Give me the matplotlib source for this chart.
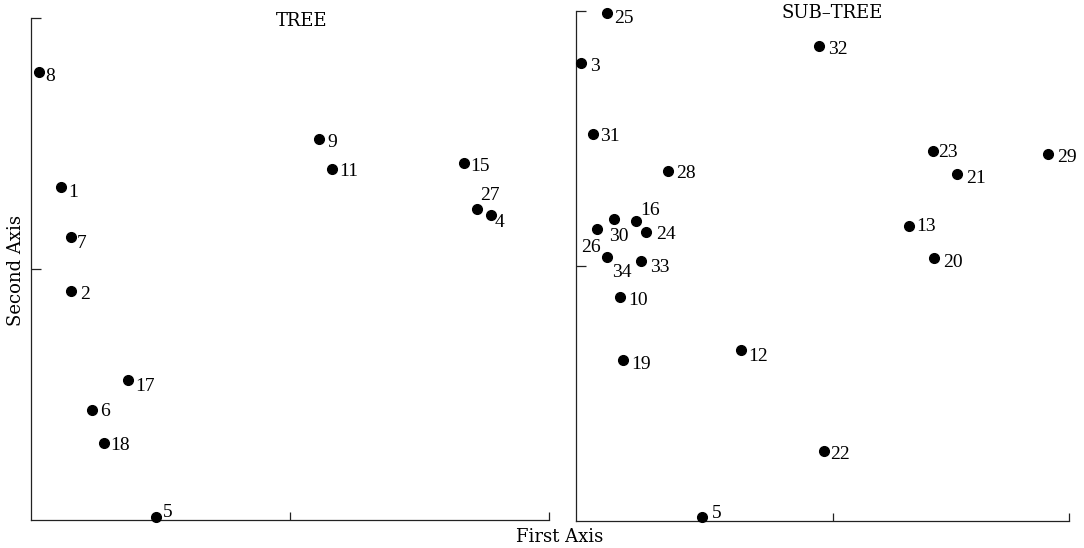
"""
Ordination plot of the TREE and SUB-TREE samples (first vs second axis).
Output: out.png (1084x548)
"""

import matplotlib
matplotlib.use("Agg")
import matplotlib.pyplot as plt

# ── Data ──────────────────────────────────────────────────────────────────────
TREE_LABELS = ["8", "1", "7", "2", "17", "6", "18", "5", "9", "11", "15", "27", "4"]
TREE_X = [0.031, 0.115, 0.153, 0.155, 0.373, 0.237, 0.280, 0.483,
          1.113, 1.161, 1.672, 1.723, 1.775]
TREE_Y = [1.785, 1.325, 1.126, 0.912, 0.556, 0.440, 0.305, 0.012,
          1.518, 1.398, 1.421, 1.239, 1.215]

SUB_LABELS = ["25", "3", "32", "31", "23", "29", "21", "28", "16", "30", "26",
              "24", "13", "34", "33", "20", "10", "19", "12", "22", "5"]
SUB_X = [0.119, 0.018, 0.947, 0.065, 1.390, 1.838, 1.481, 0.358, 0.232, 0.149,
         0.082, 0.274, 1.297, 0.119, 0.253, 1.394, 0.171, 0.181, 0.640, 0.963, 0.490]
SUB_Y = [1.991, 1.795, 1.861, 1.519, 1.452, 1.438, 1.360, 1.371, 1.178, 1.183,
         1.144, 1.133, 1.157, 1.034, 1.020, 1.030, 0.880, 0.631, 0.669, 0.273, 0.017]

TREE_XMAX = 2.0
SUB_XMAX = 1.918

# ── Label placement: (dx to left edge, dy of centre downward), in pixels ─────
DEFAULT_OFF = (8, 2)
TREE_OFF = {
    "8": (6, 2.5), "1": (7, 3.5), "7": (6, 4), "2": (9, 1.5), "17": (8, 4),
    "6": (8, 0), "18": (7, 0), "5": (7, -6), "9": (8, 2), "11": (8, 0),
    "15": (6, 1.5), "27": (3, -15), "4": (4, 6),
}
SUB_OFF = {
    "25": (8, 3), "3": (9, 1), "32": (9, 1), "31": (7, 1), "23": (5, 0),
    "29": (9, 1), "21": (9, 2), "28": (8, 0), "16": (5, -12), "30": (-5, 15),
    "26": (-16, 16), "24": (10, 1), "13": (7, -1), "34": (5, 13), "33": (9, 4.5),
    "20": (9, 2), "10": (8, 2), "19": (8.5, 3), "12": (7.5, 4.5), "22": (7, 1),
    "5": (10, -5),
}

PX = 72 / 100  # points per pixel at dpi 100
TITLE_FONT = "DejaVu Serif"
NUM_FONT = "Liberation Serif"
NUM_SIZE = 14


def draw_panel(ax, xs, ys, labels, offsets, xmax, title, title_x, title_y):
    ax.plot(xs, ys, "o", color="black", markersize=7, clip_on=False, zorder=3)
    for x, y, lab in zip(xs, ys, labels):
        dx, dy = offsets.get(lab, DEFAULT_OFF)
        ax.annotate(lab, (x, y), xytext=(dx * PX, -(dy + 6.4) * PX),
                    textcoords="offset points", ha="left", va="baseline",
                    fontsize=NUM_SIZE, family=NUM_FONT, color="black")

    ax.set_xlim(0, xmax)
    ax.set_ylim(0, 2)
    for side in ("top", "right"):
        ax.spines[side].set_visible(False)
    for side in ("left", "bottom"):
        ax.spines[side].set_linewidth(0.9)
        ax.spines[side].set_color("#222222")

    ax.set_xticks([1, xmax])
    ax.set_yticks([1, 2])
    ax.tick_params(direction="in", length=7, width=0.9, color="#222222",
                   labelbottom=False, labelleft=False)
    ax.tick_params(axis="x", length=6)

    ax.text(title_x, title_y, title, transform=ax.transAxes, ha="center",
            va="center", fontsize=13, family=TITLE_FONT)


fig = plt.figure(figsize=(10.84, 5.48), dpi=100)
ax1 = fig.add_axes([31 / 1084, 28 / 548, 518 / 1084, 502 / 548])
ax2 = fig.add_axes([576 / 1084, 27 / 548, 493 / 1084, 510 / 548])

draw_panel(ax1, TREE_X, TREE_Y, TREE_LABELS, TREE_OFF, TREE_XMAX,
           "TREE", 0.523, 0.995)
draw_panel(ax2, SUB_X, SUB_Y, SUB_LABELS, SUB_OFF, SUB_XMAX,
           "SUB\u2013TREE", 0.520, 0.997)

fig.text(560 / 1084, 1 - 537 / 548, "First Axis", ha="center", va="center",
         fontsize=13, family=TITLE_FONT)
fig.text(16 / 1084, 1 - 270 / 548, "Second Axis", ha="center", va="center",
         rotation=90, fontsize=13, family=TITLE_FONT)

fig.savefig("out.png", dpi=100)
plt.close(fig)
